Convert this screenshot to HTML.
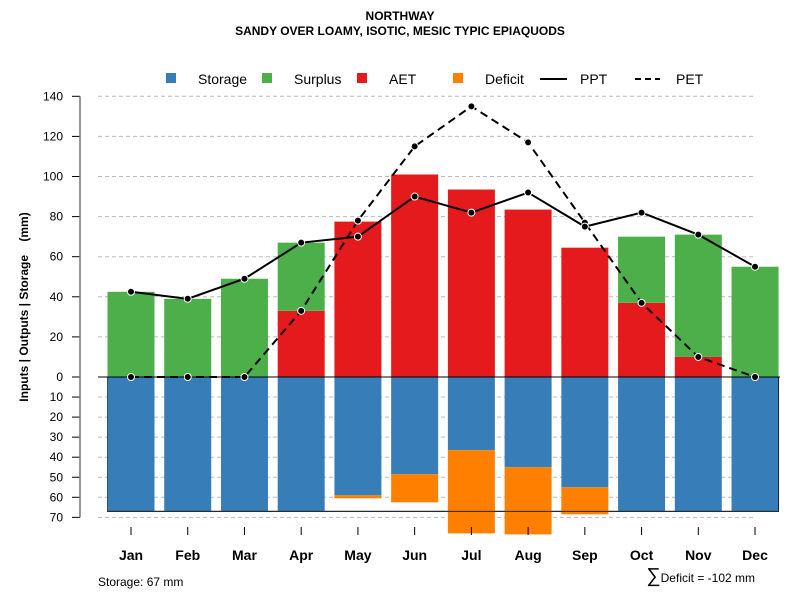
<!DOCTYPE html>
<html><head><meta charset="utf-8"><style>
body{margin:0;background:#fff;font-family:"Liberation Sans",Arial,sans-serif}
svg text{font-family:"Liberation Sans",Arial,sans-serif}
</style></head><body>
<svg id="c" width="800" height="600" xmlns="http://www.w3.org/2000/svg">
<text x="400" y="20" text-anchor="middle" font-size="12" font-weight="bold">NORTHWAY</text>
<text x="400" y="35" text-anchor="middle" font-size="12" font-weight="bold">SANDY OVER LOAMY, ISOTIC, MESIC TYPIC EPIAQUODS</text>
<g>
<rect x="166" y="73" width="10" height="10" fill="#377eb8"/>
<text x="198" y="84" font-size="14">Storage</text>
<rect x="262" y="73" width="10" height="10" fill="#4daf4a"/>
<text x="294" y="84" font-size="14">Surplus</text>
<rect x="357" y="73" width="10" height="10" fill="#e41a1c"/>
<text x="389" y="84" font-size="14">AET</text>
<rect x="453" y="73" width="10" height="10" fill="#ff7f00"/>
<text x="485" y="84" font-size="14">Deficit</text>
<line x1="540" y1="79" x2="567" y2="79" stroke="#000" stroke-width="2"/>
<text x="580" y="84" font-size="14">PPT</text>
<line x1="635" y1="79" x2="660" y2="79" stroke="#000" stroke-width="2" stroke-dasharray="6,4"/>
<text x="676" y="84" font-size="14">PET</text>
</g>
<g id="plot"></g>
<text transform="translate(28,307) rotate(-90)" text-anchor="middle" font-size="12" font-weight="bold" xml:space="preserve" style="white-space:pre">Inputs | Outputs | Storage    (mm)</text>
<text x="98" y="586" font-size="12">Storage: 67 mm</text>
<text x="755" y="582" text-anchor="end" font-size="12"><tspan font-size="20">∑</tspan>Deficit = -102 mm</text>
</svg>
<script>
const months=["Jan","Feb","Mar","Apr","May","Jun","Jul","Aug","Sep","Oct","Nov","Dec"];
const ppt=[42.5,39,49,67,70,90,82,92,75,82,71,55];
const pet=[0,0,0,33,78,115,135,117,77,37,10,0];
const aet=[0,0,0,33,77.5,101,93.5,83.5,64.5,37,10,0];
const surplus=[42.5,39,49,34,0,0,0,0,0,33,61,55];
const storage=[67,67,67,67,59,48.5,36.5,45,55,67,67,67];
const deficit=[0,0,0,0,1.5,14,41.5,33.5,13.5,0,0,0];
const upTicks=[0,20,40,60,80,100,120,140];
const downTicks=[10,20,30,40,50,60,70];
const maxStorage=67;
const NS="http://www.w3.org/2000/svg";
const g=document.getElementById('plot');
const y0=377,ppu=2.005;
const yUp=v=>y0-v*ppu, yDn=v=>y0+v*ppu;
const xC=i=>131+i*56.73, bw=47;
function mk(t,a){const e=document.createElementNS(NS,t);for(const k in a)e.setAttribute(k,a[k]);g.appendChild(e);return e;}
upTicks.forEach(v=>{
 const l=mk('line',{x1:98,x2:755,y1:yUp(v),y2:yUp(v),stroke:'#bbb','stroke-dasharray':'4,3'});
 
 
 const t=mk('line',{x1:72,x2:80,y1:yUp(v),y2:yUp(v),stroke:'#000'});
 
 
 const tx=mk('text',{x:63,y:yUp(v)+4,'text-anchor':'end','font-size':12});tx.textContent=v;
 
 
});
downTicks.forEach(v=>{
 const l=mk('line',{x1:98,x2:755,y1:yDn(v),y2:yDn(v),stroke:'#bbb','stroke-dasharray':'4,3'});
 
 
 const t=mk('line',{x1:72,x2:80,y1:yDn(v),y2:yDn(v),stroke:'#000'});
 
 
 const tx=mk('text',{x:63,y:yDn(v)+4,'text-anchor':'end','font-size':12});tx.textContent=v;
 
 
});
const ax=mk('line',{x1:80,x2:80,y1:yUp(140),y2:yDn(70),stroke:'#777','stroke-width':1.5});


const sb=mk('rect',{x:xC(0)-bw/2,y:y0,width:xC(11)+bw/2-(xC(0)-bw/2),height:maxStorage*ppu,fill:'none',stroke:'#222','stroke-width':1});


months.forEach((m,i)=>{
 const x=xC(i)-bw/2;
 const s=mk('rect',{x,y:y0,width:bw,height:storage[i]*ppu,fill:'#377eb8'});
 
 
 if(deficit[i]>0){const d=mk('rect',{x,y:yDn(storage[i]),width:bw,height:deficit[i]*ppu,fill:'#ff7f00'});
 
 }
 if(aet[i]>0){const a=mk('rect',{x,y:yUp(aet[i]),width:bw,height:aet[i]*ppu,fill:'#e41a1c'});
 
 }
 if(surplus[i]>0){const su=mk('rect',{x,y:yUp(aet[i]+surplus[i]),width:bw,height:surplus[i]*ppu,fill:'#4daf4a'});
 
 }
 const t=mk('line',{x1:xC(i),x2:xC(i),y1:527,y2:535,stroke:'#000'});
 
 
 const tx=mk('text',{x:xC(i),y:560,'text-anchor':'middle','font-size':14,'font-weight':'bold'});tx.textContent=m;
 
 
});
const sl=mk('line',{x1:xC(0)-bw/2,x2:xC(11)+bw/2,y1:yDn(maxStorage),y2:yDn(maxStorage),stroke:'#222','stroke-width':1});


const sr=mk('line',{x1:xC(11)+bw/2,x2:xC(11)+bw/2,y1:y0,y2:yDn(maxStorage),stroke:'#222','stroke-width':1});


const zl=mk('line',{x1:98,x2:780,y1:y0,y2:y0,stroke:'#000'});


function series(arr,name,dash){
 const p=mk('polyline',{points:arr.map((v,i)=>xC(i)+','+yUp(v)).join(' '),fill:'none',stroke:'#000','stroke-width':2,'stroke-dasharray':dash});
 
 
 arr.forEach((v,i)=>{const c=mk('circle',{cx:xC(i),cy:yUp(v),r:3.5,fill:'#000',stroke:'#fff','stroke-width':1});
 
 });
}
series(pet,'pet','8,5');
series(ppt,'ppt','none');
</script>
</body></html>
